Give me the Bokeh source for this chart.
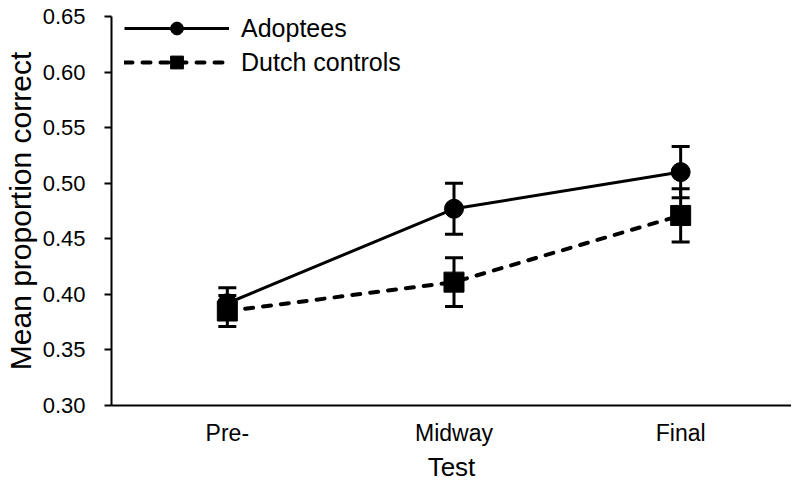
from bokeh.plotting import figure
from bokeh.models import Range1d, Whisker, TeeHead, ColumnDataSource, Legend, LegendItem, FixedTicker
from bokeh.embed import file_html
from bokeh.resources import INLINE

tests = ["Pre-", "Midway", "Final"]
adoptees = [0.392, 0.477, 0.510]
adoptees_err = [0.014, 0.023, 0.023]
controls = [0.385, 0.411, 0.471]
controls_err = [0.014, 0.022, 0.024]
y_ticks = [0.30, 0.35, 0.40, 0.45, 0.50, 0.55, 0.60, 0.65]

FONT = "Liberation Sans"
xs = list(range(len(tests)))

p = figure(width=791, height=486, output_backend="svg", toolbar_location=None,
           x_range=Range1d(-0.511, 2.489), y_range=Range1d(0.30, 0.65),
           min_border_left=110, min_border_right=0, min_border_top=16, min_border_bottom=81)
p.outline_line_color = None
p.xgrid.visible = False
p.ygrid.visible = False

src_a = ColumnDataSource(dict(x=xs, y=adoptees,
                              lo=[v - e for v, e in zip(adoptees, adoptees_err)],
                              hi=[v + e for v, e in zip(adoptees, adoptees_err)]))
src_c = ColumnDataSource(dict(x=xs, y=controls,
                              lo=[v - e for v, e in zip(controls, controls_err)],
                              hi=[v + e for v, e in zip(controls, controls_err)]))

for src in (src_a, src_c):
    w = Whisker(source=src, base="x", upper="hi", lower="lo", dimension="height",
                line_width=3, line_color="black",
                upper_head=TeeHead(size=18, line_width=3, line_color="black"),
                lower_head=TeeHead(size=18, line_width=3, line_color="black"))
    p.add_layout(w)

la = p.line("x", "y", source=src_a, line_width=3, line_color="black")
ma = p.scatter("x", "y", source=src_a, marker="circle", size=19, color="black")
lc = p.line("x", "y", source=src_c, line_width=4, line_color="black", line_dash="8 10", line_cap="round")
mc = p.scatter("x", "y", source=src_c, marker="square", size=20, color="black")

legend = Legend(items=[LegendItem(label="Adoptees", renderers=[la, ma]),
                       LegendItem(label="Dutch controls", renderers=[lc, mc])],
                location=(13, 327), padding=0, spacing=2, glyph_width=105, glyph_height=32,
                label_standoff=12, border_line_color=None, background_fill_alpha=0,
                label_text_font=FONT, label_text_font_size="25px", label_text_color="black")
p.add_layout(legend)

p.xaxis.ticker = FixedTicker(ticks=xs)
p.xaxis.major_label_overrides = {i: t for i, t in enumerate(tests)}
p.xaxis.major_tick_line_color = None
p.xaxis.major_tick_out = 0
p.xaxis.major_tick_in = 0
p.xaxis.minor_tick_line_color = None
p.xaxis.axis_label = "Test"

p.yaxis.ticker = FixedTicker(ticks=y_ticks)
p.yaxis.major_label_overrides = {v: f"{v:.2f}" for v in y_ticks}
p.yaxis.minor_tick_line_color = None
p.yaxis.major_tick_out = 7
p.yaxis.major_tick_in = 0
p.yaxis.axis_label = "Mean proportion correct"

for ax in (p.xaxis, p.yaxis):
    ax.axis_line_width = 2
    ax.axis_line_color = "black"
    ax.major_tick_line_width = 2
    ax.major_label_text_font = FONT
    ax.major_label_text_color = "black"
    ax.axis_label_text_font = FONT
    ax.axis_label_text_font_style = "normal"
    ax.axis_label_text_color = "black"

p.xaxis.major_label_text_font_size = "23px"
p.xaxis.axis_label_text_font_size = "26px"
p.xaxis.major_label_standoff = 14
p.xaxis.axis_label_standoff = 3

p.yaxis.major_label_text_font_size = "22px"
p.yaxis.axis_label_text_font_size = "30px"
p.yaxis.major_label_standoff = 19
p.yaxis.axis_label_standoff = 3

open("out.html", "w").write(file_html(p, INLINE))
